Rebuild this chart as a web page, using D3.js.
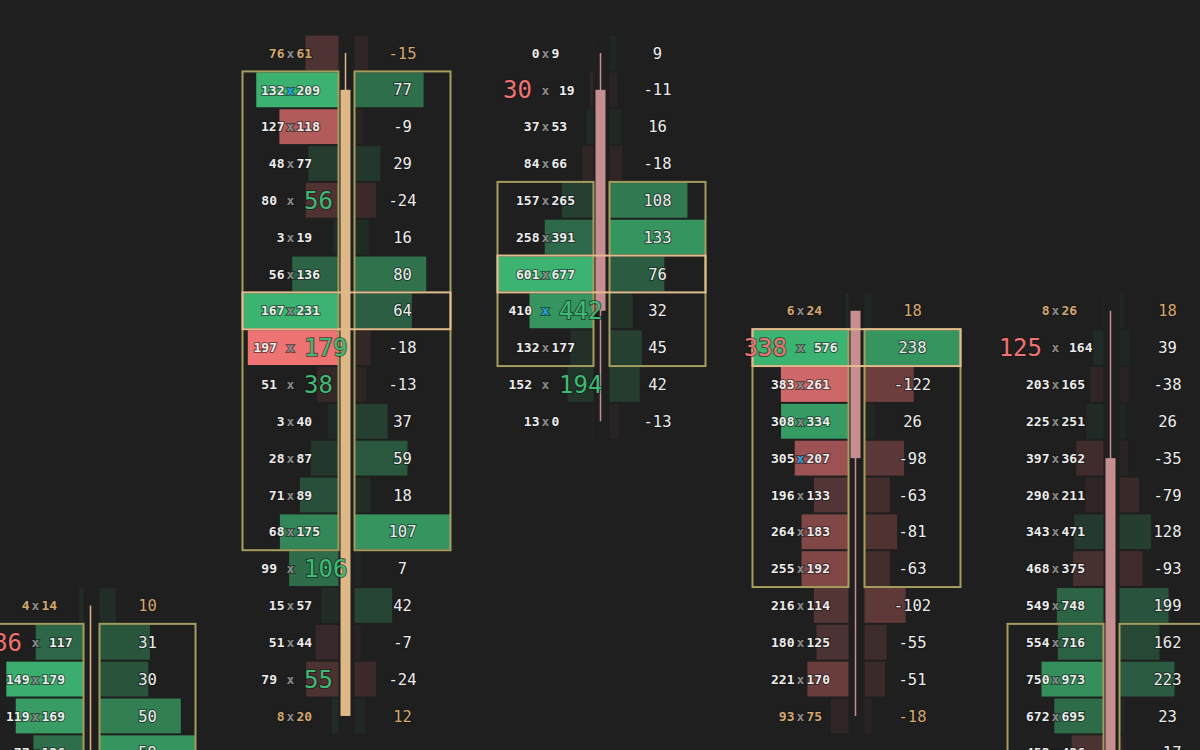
<!DOCTYPE html>
<html><head><meta charset="utf-8">
<script src="https://cdn.jsdelivr.net/npm/d3@7"></script>
<style>html,body{margin:0;padding:0;background:#1f1f1f;overflow:hidden}</style>
</head><body><svg id="chart" width="1200" height="750"></svg>
<script>
// ---------- DATA ----------
const barTimes = ["10:00", "10:05", "10:10", "10:15", "10:20"];
const tickSize = 0.25;
// highest listed price level of each bar's footprint
const firstPrice = [4508.75, 4512.50, 4512.50, 4510.75, 4510.75];
const bidVolume = [
  [4, 86, 149, 119, 77],
  [76, 132, 127, 48, 80, 3, 56, 167, 197, 51, 3, 28, 71, 68, 99, 15, 51, 79, 8],
  [0, 30, 37, 84, 157, 258, 601, 410, 132, 152, 13],
  [6, 338, 383, 308, 305, 196, 264, 255, 216, 180, 221, 93],
  [8, 125, 203, 225, 397, 290, 343, 468, 549, 554, 750, 672, 453]
];
const askVolume = [
  [14, 117, 179, 169, 136],
  [61, 209, 118, 77, 56, 19, 136, 231, 179, 38, 40, 87, 89, 175, 106, 57, 44, 55, 20],
  [9, 19, 53, 66, 265, 391, 677, 442, 177, 194, 0],
  [24, 576, 261, 334, 207, 133, 183, 192, 114, 125, 170, 75],
  [26, 164, 165, 251, 362, 211, 471, 375, 748, 716, 973, 695, 436]
];
// largest volume / delta of each bar (levels beyond the visible area included)
const maxLevelVolume = [408, 398, 1278, 914, 2668];
const maxLevelDelta = [59, 107, 133, 238, 389];
// imbalance prices
const bidImbalance = [[4508.50], [], [4512.25], [4510.50], [4510.50]];
const askImbalance = [[], [4511.50, 4510.50, 4510.25, 4509.00, 4508.25], [4510.75, 4510.25], [], []];
const largestTrade = [[], [4512.25], [4510.75], [4509.75], []];
const pocPrice = [4507.00, 4510.75, 4511.00, 4510.50, 4507.00];
const vaHigh = [4508.50, 4512.25, 4511.50, 4510.50, 4508.50];
const vaLow = [4506.50, 4509.25, 4510.50, 4509.00, 4506.00];
const openPrice = [4506.25, 4508.00, 4512.25, 4510.75, 4509.75];
const highPrice = [4508.75, 4512.50, 4512.50, 4510.75, 4510.75];
const lowPrice = [4506.00, 4508.00, 4510.00, 4508.00, 4506.00];
const closePrice = [4507.25, 4512.25, 4510.75, 4509.75, 4506.50];

// ---------- CHART ----------
const W = 1200, H = 750;
const svg = d3.select("#chart");
svg.append("rect").attr("width", W).attr("height", H).attr("fill", "#1f1f1f");

const y = d3.scaleLinear().domain([4512.50, 4508.00]).range([53, 53 + 18 * 36.83]);
const x = d3.scalePoint().domain(barTimes).range([90.5, 1110.5]);
const rowH = y(4512.25) - y(4512.50);
const panelW = 96;

const bg = "#1f1f1f";
const GREEN = "#3cb371", RED = "#ee7474", DGREEN = "#36945f", DRED = "#d06464";
const TAN = "#d2a76e", WHITE = "#ececec", BIGRED = "#f07272", BIGGREEN = "#3dbb74";
const CYAN = "#1fa6e6", GRAYX = "#8a8a8a";
const VA = "#a59d5e", POC = "#e2bc8c";
const UP = "#deb887", DOWN = "#c78e92";
const font = "'DejaVu Sans Mono', monospace";
const mix = (full, t) => d3.interpolateRgb(bg, full)(Math.max(0.06, Math.min(1, t)));
const smooth = r => { const u = Math.max(0, Math.min(1, (r - 0.15) / 0.75)); return u * u * (3 - 2 * u); };
const near = (a, b) => Math.abs(a - b) < 1e-6;

barTimes.forEach((t, i) => {
  const cx = x(t);
  const g = svg.append("g");
  const levels = bidVolume[i].map((b, k) => ({
    price: firstPrice[i] - k * tickSize,
    bid: b, ask: askVolume[i][k], delta: askVolume[i][k] - b
  }));
  const vScale = d3.scaleLinear().domain([0, maxLevelVolume[i]]).range([0, panelW]);
  const dScale = d3.scaleLinear().domain([0, maxLevelDelta[i]]).range([0, panelW]);

  // volume bars (left panel, right aligned)
  g.selectAll("rect.vol").data(levels).join("rect")
    .attr("x", d => cx - 7 - vScale(d.bid + d.ask))
    .attr("y", d => y(d.price) - rowH / 2 + 1)
    .attr("width", d => vScale(d.bid + d.ask))
    .attr("height", rowH - 2)
    .attr("fill", d => mix(d.ask >= d.bid ? GREEN : RED, 0.08 + 0.92 * smooth((d.bid + d.ask) / maxLevelVolume[i])));

  // delta bars (right panel)
  g.selectAll("rect.del").data(levels).join("rect")
    .attr("x", cx + 9)
    .attr("y", d => y(d.price) - rowH / 2 + 1)
    .attr("width", d => dScale(Math.abs(d.delta)))
    .attr("height", rowH - 2)
    .attr("fill", d => mix(d.delta >= 0 ? DGREEN : DRED, Math.pow(Math.abs(d.delta) / maxLevelDelta[i], 1.2)));

  // candle
  const col = closePrice[i] >= openPrice[i] ? UP : DOWN;
  g.append("line").attr("x1", cx).attr("x2", cx)
    .attr("y1", y(highPrice[i])).attr("y2", y(lowPrice[i]))
    .attr("stroke", col).attr("stroke-width", 1.5);
  const top = Math.max(openPrice[i], closePrice[i]), bot = Math.min(openPrice[i], closePrice[i]);
  g.append("rect").attr("x", cx - 5).attr("width", 10)
    .attr("y", y(top)).attr("height", Math.max(1, y(bot) - y(top)))
    .attr("fill", col);

  // value area boxes
  const vaY = y(vaHigh[i]) - rowH / 2, vaH = y(vaLow[i]) - y(vaHigh[i]) + rowH;
  [cx - 103, cx + 9].forEach(bx => {
    g.append("rect").attr("x", bx).attr("y", vaY).attr("width", panelW).attr("height", vaH)
      .attr("fill", "none").attr("stroke", VA).attr("stroke-width", 2);
  });
  // POC box
  g.append("rect").attr("x", cx - 103).attr("y", y(pocPrice[i]) - rowH / 2)
    .attr("width", 208).attr("height", rowH)
    .attr("fill", "none").attr("stroke", POC).attr("stroke-width", 2);

  // texts
  const tcx = cx - 55;
  levels.forEach(d => {
    const yy = y(d.price);
    const unfinished = (near(d.price, highPrice[i]) && d.bid > 0) || (near(d.price, lowPrice[i]) && d.ask > 0);
    const base = unfinished ? TAN : WHITE;
    const bImb = bidImbalance[i].some(p => near(p, d.price));
    const aImb = askImbalance[i].some(p => near(p, d.price));
    const big = bImb || aImb;
    const gap = big ? 13.5 : 6;
    const txt = (s, xx, anchor, size, fill, weight) => g.append("text")
      .attr("x", xx).attr("y", yy).attr("dy", "0.36em")
      .attr("text-anchor", anchor).attr("font-family", font)
      .attr("font-size", size).attr("font-weight", weight)
      .attr("fill", fill)
      .attr("stroke", "#141414").attr("stroke-width", 2.2).attr("stroke-opacity", 0.55)
      .attr("paint-order", "stroke")
      .text(s);
    txt(d.bid, tcx - gap, "end", bImb ? 24 : 13, bImb ? BIGRED : base, bImb ? "normal" : "bold");
    txt("x", tcx, "middle", 13, largestTrade[i].some(p => near(p, d.price)) ? CYAN : GRAYX, "bold");
    txt(d.ask, tcx + gap, "start", aImb ? 24 : 13, aImb ? BIGGREEN : base, aImb ? "normal" : "bold");
    txt(d.delta, cx + 57, "middle", 15.5, base, "normal");
  });
});
</script></body></html>
